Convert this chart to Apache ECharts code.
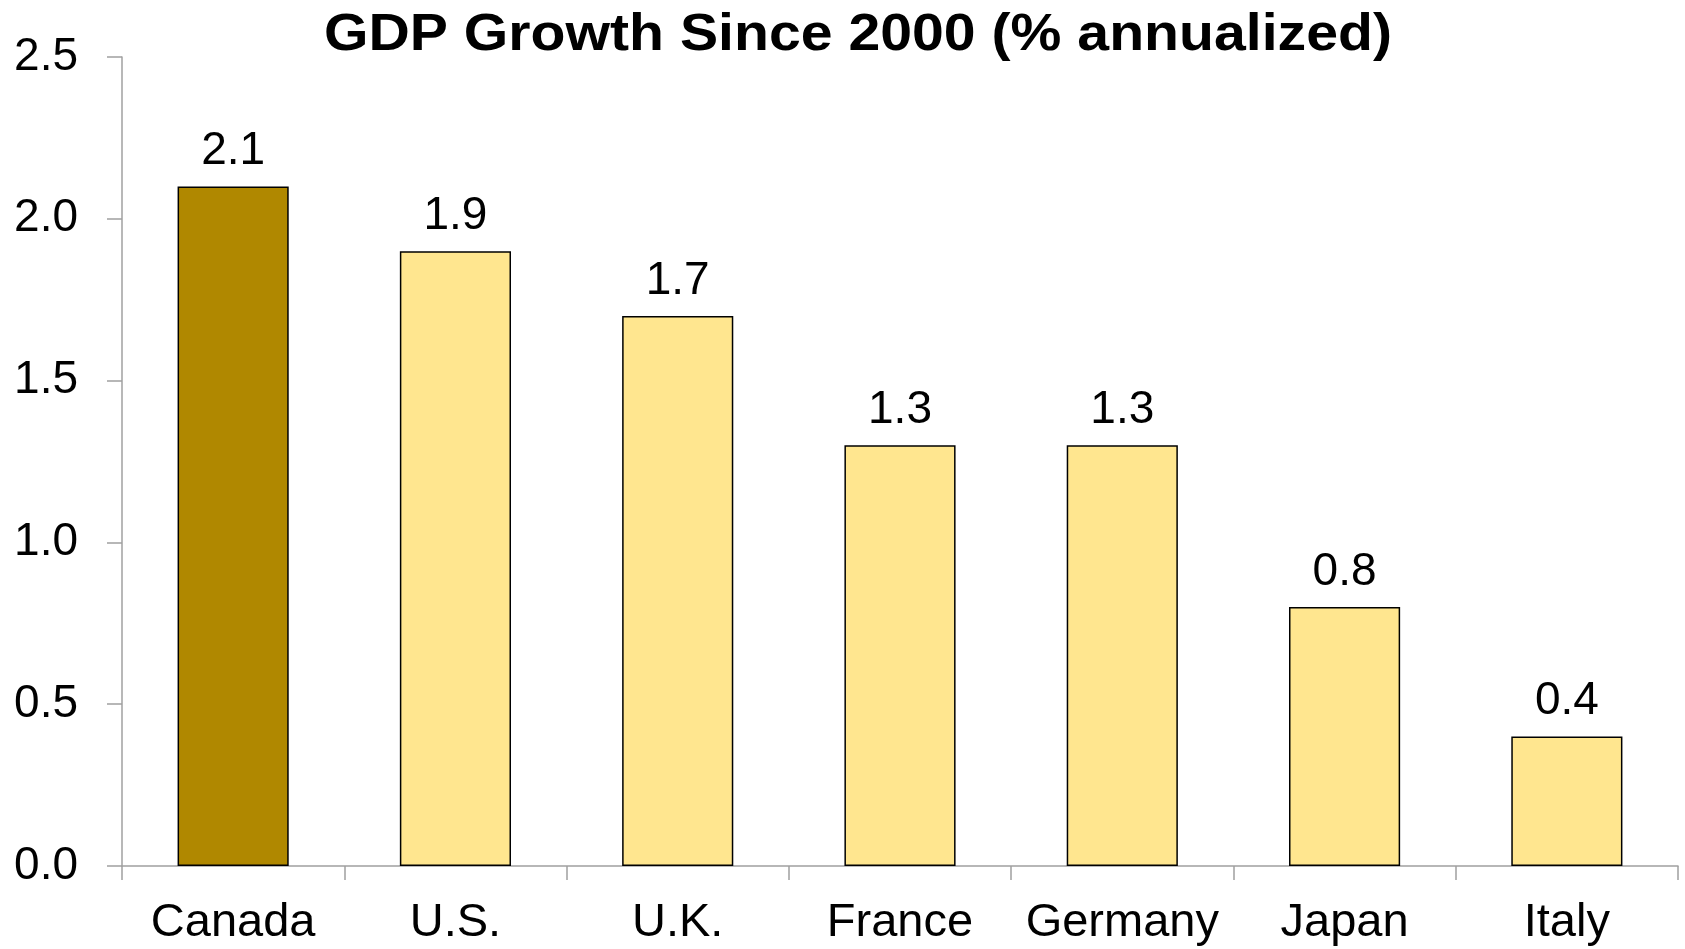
<!DOCTYPE html>
<html><head><meta charset="utf-8">
<script src="https://cdn.jsdelivr.net/npm/echarts@6/dist/echarts.min.js"></script>
<style>html,body{margin:0;padding:0;background:#fff}#c{width:1685px;height:949px}</style>
</head><body><div id="c"></div>
<script>
const categories = ['Canada', 'U.S.', 'U.K.', 'France', 'Germany', 'Japan', 'Italy'];
const growth = [2.1, 1.9, 1.7, 1.3, 1.3, 0.8, 0.4];
const highlightCategory = 'Canada';
const titleText = 'GDP Growth Since 2000 (% annualized)';

const chart = echarts.init(document.getElementById('c'));
const font = '"Liberation Sans", Arial, sans-serif';
chart.setOption({
  backgroundColor: '#ffffff',
  animation: false,
  graphic: [{
    type: 'text',
    x: 858, y: 36,
    scaleX: 1.1, scaleY: 1,
    style: {
      text: titleText,
      fontFamily: font, fontWeight: 'bold', fontSize: 52, fill: '#000',
      textAlign: 'center', textVerticalAlign: 'middle'
    }
  }],
  grid: { left: 122, right: 7, top: 57, bottom: 83, containLabel: false },
  xAxis: {
    type: 'category',
    data: categories,
    axisLine: { lineStyle: { color: '#a0a0a0', width: 1.5 } },
    axisTick: { show: true, length: 14, alignWithLabel: false, lineStyle: { color: '#a0a0a0', width: 1.5 } },
    axisLabel: { fontFamily: font, fontSize: 47, color: '#000', margin: 34, interval: 0 }
  },
  yAxis: {
    type: 'value',
    min: 0, max: 2.5, interval: 0.5,
    splitLine: { show: false },
    axisLine: { show: true, lineStyle: { color: '#a0a0a0', width: 1.5 } },
    axisTick: { show: true, length: 15, lineStyle: { color: '#a0a0a0', width: 1.5 } },
    axisLabel: { fontFamily: font, fontSize: 46, color: '#000', margin: 44,
      formatter: v => v.toFixed(1) }
  },
  series: [{
    type: 'bar',
    barWidth: '50%',
    data: growth.map((v, i) => ({
      value: v,
      itemStyle: { color: categories[i] === highlightCategory ? '#B08800' : '#FFE68F' }
    })),
    itemStyle: { borderColor: '#000', borderWidth: 1.5 },
    label: {
      show: true, position: 'top', distance: 12,
      fontFamily: font, fontSize: 46, color: '#000',
      formatter: p => p.value.toFixed(1)
    }
  }]
});
</script></body></html>
